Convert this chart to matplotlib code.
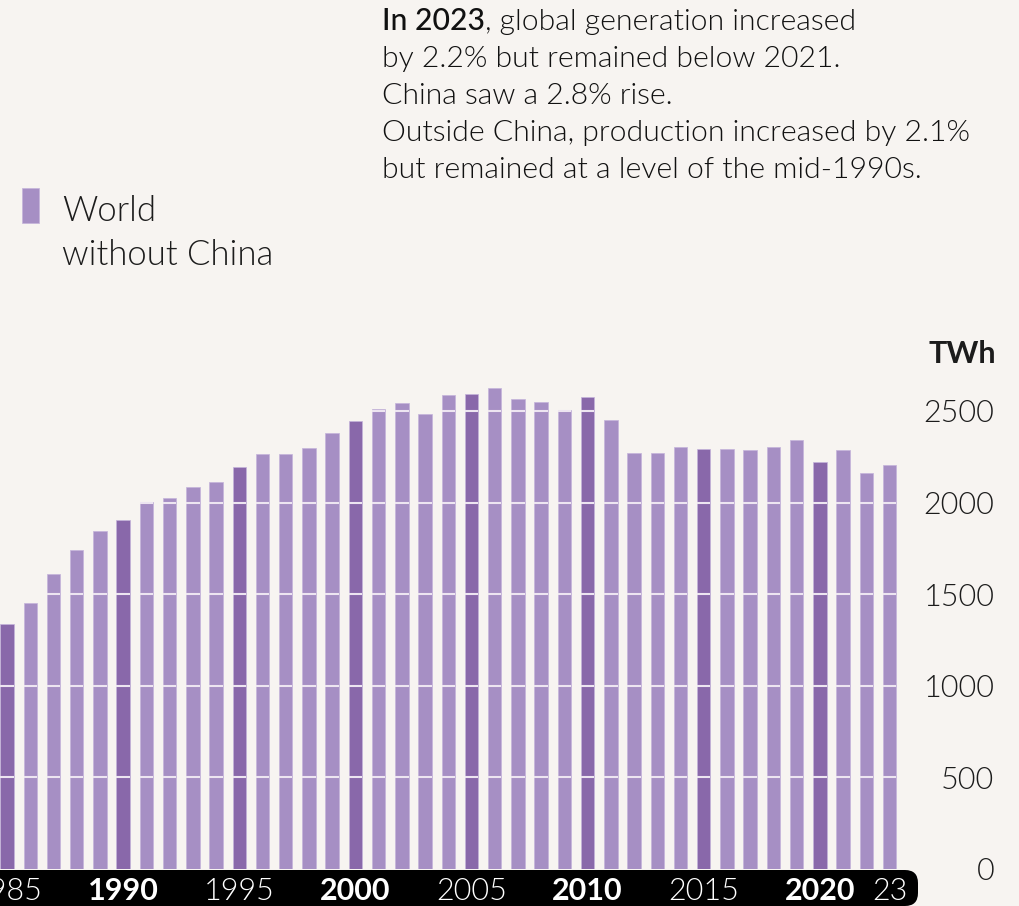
import matplotlib
matplotlib.use("Agg")
import matplotlib.pyplot as plt
from matplotlib.patches import FancyBboxPatch, Rectangle
from matplotlib.transforms import IdentityTransform

# Coal-fired electricity generation, world without China (TWh)
years = list(range(1985, 2024))
generation = [1337, 1452, 1612, 1740, 1844, 1904, 2002, 2024, 2085, 2113,
              2193, 2267, 2264, 2300, 2380, 2444, 2511, 2546, 2482, 2586,
              2591, 2626, 2564, 2548, 2507, 2577, 2449, 2269, 2271, 2302,
              2294, 2294, 2286, 2302, 2342, 2223, 2286, 2160, 2205]

y_ticks = [0, 500, 1000, 1500, 2000, 2500]
x_tick_years = [1985, 1990, 1995, 2000, 2005, 2010, 2015, 2020, 2023]
x_tick_labels = ["1985", "1990", "1995", "2000", "2005", "2010", "2015", "2020", "23"]
bold_ticks = {"1990", "2000", "2010", "2020"}

note_lines = [
    ("In 2023", ", global generation increased"),
    ("", "by 2.2% but remained below 2021."),
    ("", "China saw a 2.8% rise."),
    ("", "Outside China, production increased by 2.1%"),
    ("", "but remained at a level of the mid-1990s."),
]

BG = "#f7f4f1"
DARK = "#8968aa"
LIGHT = "#a68fc4"
EDGE = "#c4b3da"
TEXT = "#1c1c1c"
FONT = "Lato"

W, H = 1020, 906
fig = plt.figure(figsize=(W / 100, H / 100), dpi=100, facecolor=BG)

# plot area in pixels (from the top-left corner)
px_left, px_right, px_top, px_base = 0, 918, 300, 869
ax = fig.add_axes([px_left / W, (H - px_base) / H,
                   (px_right - px_left) / W, (px_base - px_top) / H])
ax.set_facecolor("none")

step = 23.22  # pixels per year
x0 = 1985 - 7.1 / step
ax.set_xlim(x0, x0 + (px_right - px_left) / step)
ax.set_ylim(0, (px_base - px_top) * 2500 / 458.0)

bar_w = 0.58
colors = [DARK if y % 5 == 0 else LIGHT for y in years]
ax.bar(years, generation, width=bar_w, color=colors,
       edgecolor=EDGE, linewidth=0.5, zorder=2)

# grid lines show only where they cross the bars
for v in y_ticks[1:]:
    xs = [yr for yr, g in zip(years, generation) if g > v]
    ax.hlines([v] * len(xs), [x - bar_w / 2 for x in xs], [x + bar_w / 2 for x in xs],
              color="#ede5f1", lw=1.5, zorder=3)

for s in ax.spines.values():
    s.set_visible(False)

# y axis on the right
ax.yaxis.tick_right()
ax.set_yticks(y_ticks)
ax.set_yticklabels([str(v) for v in y_ticks])
ax.tick_params(axis="y", length=0, pad=55)
for lbl in ax.get_yticklabels():
    lbl.set_horizontalalignment("right")
    lbl.set_fontfamily(FONT)
    lbl.set_fontweight(300)
    lbl.set_fontsize(22)
    lbl.set_color(TEXT)

# x axis labels inside the black band
ax.set_xticks(x_tick_years)
ax.set_xticklabels(x_tick_labels)
ax.tick_params(axis="x", length=0, pad=6)
for lbl in ax.get_xticklabels():
    lbl.set_fontfamily(FONT)
    lbl.set_fontsize(22)
    lbl.set_color("white")
    lbl.set_fontweight(700 if lbl.get_text() in bold_ticks else 300)

band = FancyBboxPatch((-40, 0), px_right + 40, H - 870,
                      boxstyle="round,pad=0,rounding_size=13",
                      transform=IdentityTransform(), fc="black", ec="none",
                      zorder=-1)
fig.add_artist(band)

# unit label
fig.text(996 / W, (H - 363) / H, "TWh", ha="right", va="baseline",
         fontfamily=FONT, fontweight=700, fontsize=22, color=TEXT)

# legend
fig.add_artist(Rectangle((22 / W, (H - 223) / H), 17 / W, 35 / H,
                         transform=fig.transFigure, fc=LIGHT, ec=EDGE, lw=0.5))
fig.text(62 / W, (H - 221) / H, "World", ha="left", va="baseline",
         fontfamily=FONT, fontweight=300, fontsize=25, color=TEXT)
fig.text(62 / W, (H - 265) / H, "without China", ha="left", va="baseline",
         fontfamily=FONT, fontweight=300, fontsize=25, color=TEXT)

# note text
baseline = 30
for bold, rest in note_lines:
    y = (H - baseline) / H
    if bold:
        t = fig.text(382 / W, y, bold, ha="left", va="baseline",
                     fontfamily=FONT, fontweight=500, fontsize=21.7, color="#111111")
        ax.annotate(rest, xy=(1, 0), xycoords=t, ha="left", va="bottom",
                    fontfamily=FONT, fontweight=300, fontsize=21.7, color="#111111",
                    annotation_clip=False)
    else:
        fig.text(382 / W, y, rest, ha="left", va="baseline",
                 fontfamily=FONT, fontweight=300, fontsize=21.7, color="#111111")
    baseline += 37

fig.savefig("out.png", dpi=100, facecolor=BG)
